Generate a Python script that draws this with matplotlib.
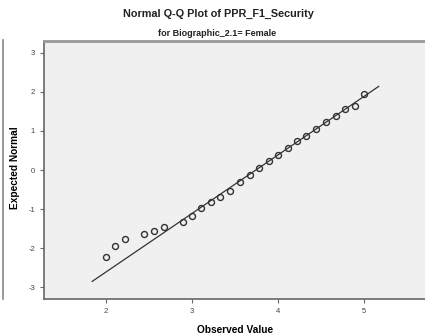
import matplotlib
matplotlib.use("Agg")
import matplotlib.pyplot as plt
from matplotlib.lines import Line2D

plt.rcParams['font.family'] = ['Liberation Sans', 'DejaVu Sans']
plt.rcParams['axes.unicode_minus'] = False

observed = [2.00, 2.11, 2.22, 2.44, 2.56, 2.67, 2.89, 3.00, 3.11, 3.22,
            3.33, 3.44, 3.56, 3.67, 3.78, 3.89, 4.00, 4.11, 4.22, 4.33,
            4.44, 4.56, 4.67, 4.78, 4.89, 5.00]
expected = [-2.22, -1.94, -1.76, -1.63, -1.56, -1.45, -1.33, -1.17, -0.98, -0.82,
            -0.68, -0.53, -0.31, -0.12, 0.04, 0.22, 0.38, 0.57, 0.73, 0.87,
            1.04, 1.22, 1.39, 1.56, 1.64, 1.95]
line_x = [1.84, 5.17]
line_y = [-2.85, 2.14]
x_ticks = [2, 3, 4, 5]
y_ticks = [-3, -2, -1, 0, 1, 2, 3]

fig = plt.figure(figsize=(4.25, 3.35), dpi=100)
ax = fig.add_axes([0.1035, 0.1075, 0.899, 0.770])
ax.set_facecolor('#f0f0f0')

ax.plot(line_x, line_y, color='#333333', linewidth=0.9)
ax.plot(observed, expected, linestyle='none', marker='o', markersize=4.3,
        markerfacecolor='none', markeredgecolor='#333333', markeredgewidth=1.0)

ax.set_xlim(1.28, 5.72)
ax.set_ylim(-3.3, 3.3)
ax.set_xticks(x_ticks)
ax.set_yticks(y_ticks)
ax.tick_params(labelsize=5.5, labelcolor='#444444', color='#666666', length=3, width=0.8)

ax.spines['top'].set_color('#999999')
ax.spines['top'].set_linewidth(2)
ax.spines['right'].set_visible(False)
ax.spines['left'].set_color('#666666')
ax.spines['bottom'].set_color('#666666')
ax.spines['left'].set_linewidth(1.2)
ax.spines['bottom'].set_linewidth(1.2)

ax.set_xlabel('Observed Value', fontsize=7.3, fontweight='bold')
ax.set_ylabel('Expected Normal', fontsize=7.3, fontweight='bold')
ax.xaxis.set_label_coords(0.5, -0.10)
ax.yaxis.set_label_coords(-0.063, 0.51)

fig.text(0.513, 0.958, 'Normal Q-Q Plot of PPR_F1_Security', ha='center', va='center',
         fontsize=7.8, fontweight='bold', color='#222222')
fig.text(0.511, 0.899, 'for Biographic_2.1= Female', ha='center', va='center',
         fontsize=6.5, fontweight='bold', color='#222222')

# outer frame edge on the left
fig.add_artist(Line2D([0.006, 0.006], [0.107, 0.880], color='#888888', linewidth=1.2))

fig.savefig('out.png', dpi=100)
